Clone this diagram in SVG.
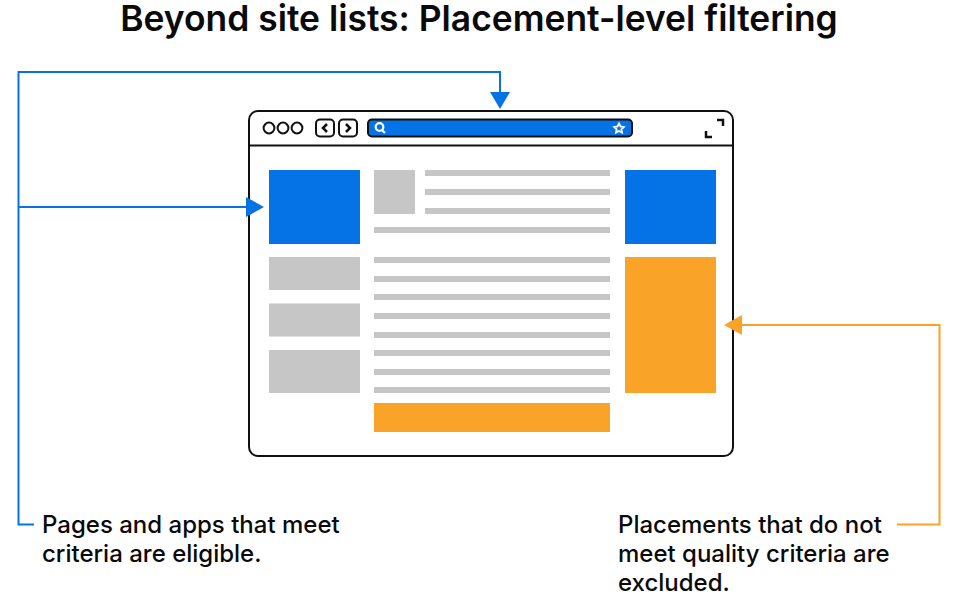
<svg xmlns="http://www.w3.org/2000/svg" width="961" height="604" viewBox="0 0 961 604">
<style>
text{font-family:"Inter","Liberation Sans",sans-serif;fill:#0a0a0a;font-weight:500}
.t{font-size:24px}
.g{fill:#c6c6c6}.b{fill:#0573e6}.o{fill:#f9a428}
.k{fill:none;stroke:#111;stroke-width:2}
.cb{fill:none;stroke:#0573e6;stroke-width:2}
.co{fill:none;stroke:#f9a428;stroke-width:2}
</style>
<rect width="961" height="604" fill="#fff"/>
<text x="479" y="31" text-anchor="middle" font-size="35.400" style="font-weight:600">Beyond site lists: Placement-level filtering</text>
<g id="browser">
<rect class="k" x="249" y="111" width="484" height="345" rx="9"/>
<path class="k" d="M249 145.500H733"/>
<circle class="k" cx="269" cy="128" r="5.400"/><circle class="k" cx="283" cy="128" r="5.400"/><circle class="k" cx="297" cy="128" r="5.400"/>
<rect class="k" x="316" y="119.500" width="18" height="17" rx="4"/>
<rect class="k" x="339" y="119.500" width="18" height="17" rx="4"/>
<path class="k" style="stroke-width:2.500" d="M327 124l-4 4 4 4M346 124l4 4-4 4"/>
<rect x="368" y="119.500" width="264" height="17" rx="4" class="b" stroke="#111" stroke-width="2"/>
<circle cx="379.500" cy="127" r="3.800" fill="none" stroke="#fff" stroke-width="2.200"/>
<path d="M382 130l3 3" stroke="#fff" stroke-width="2.200"/>
<path d="M619 123.500l1.500 3 3.300.5-2.400 2.300.6 3.300-3-1.600-3 1.600.6-3.300-2.400-2.300 3.300-.5z" fill="none" stroke="#fff" stroke-width="1.800"/>
<path class="k" style="stroke-width:2.500" d="M717 120h6v6M706 131v6h6"/>
</g>
<g id="ad-top-left"><rect class="b" x="269" y="170" width="91" height="74"/></g>
<g id="ad-top-right"><rect class="b" x="625" y="170" width="91" height="74"/></g>
<g id="ad-right"><rect class="o" x="625" y="257" width="91" height="136"/></g>
<g id="ad-bottom"><rect class="o" x="374" y="403" width="236" height="29"/></g>
<g id="left-blocks">
<rect class="g" x="269" y="257" width="91" height="33"/>
<rect class="g" x="269" y="303.500" width="91" height="33"/>
<rect class="g" x="269" y="350" width="91" height="43"/>
</g>
<g id="content">
<rect class="g" x="374" y="170" width="41" height="44"/>
<rect class="g" x="425" y="170" width="185" height="6"/>
<rect class="g" x="425" y="189" width="185" height="6"/>
<rect class="g" x="425" y="208" width="185" height="6"/>
<rect class="g" x="374" y="227" width="236" height="6"/>
<rect class="g" x="374" y="257" width="236" height="6"/>
<rect class="g" x="374" y="276" width="236" height="6"/>
<rect class="g" x="374" y="294" width="236" height="6"/>
<rect class="g" x="374" y="313" width="236" height="6"/>
<rect class="g" x="374" y="332" width="236" height="6"/>
<rect class="g" x="374" y="350" width="236" height="6"/>
<rect class="g" x="374" y="369" width="236" height="6"/>
<rect class="g" x="374" y="387" width="236" height="6"/>
</g>
<g id="connectors">
<path class="cb" d="M34 524.500H18.500V72H500V95"/>
<path class="cb" d="M18.500 207H248"/>
<path class="b" d="M490 92h20l-10 17z"/>
<path class="b" d="M246 197v20l18-10z"/>
<path class="co" d="M897 524.500H939.500V325H740"/>
<path class="o" d="M742 315v20l-18-10z"/>
</g>
<g id="label-left">
<text class="t" x="42" y="533">Pages and apps that meet</text>
<text class="t" x="42" y="562">criteria are eligible.</text>
</g>
<g id="label-right">
<text class="t" x="618" y="533">Placements that do not</text>
<text class="t" x="618" y="562">meet quality criteria are</text>
<text class="t" x="618" y="591">excluded.</text>
</g>
</svg>
